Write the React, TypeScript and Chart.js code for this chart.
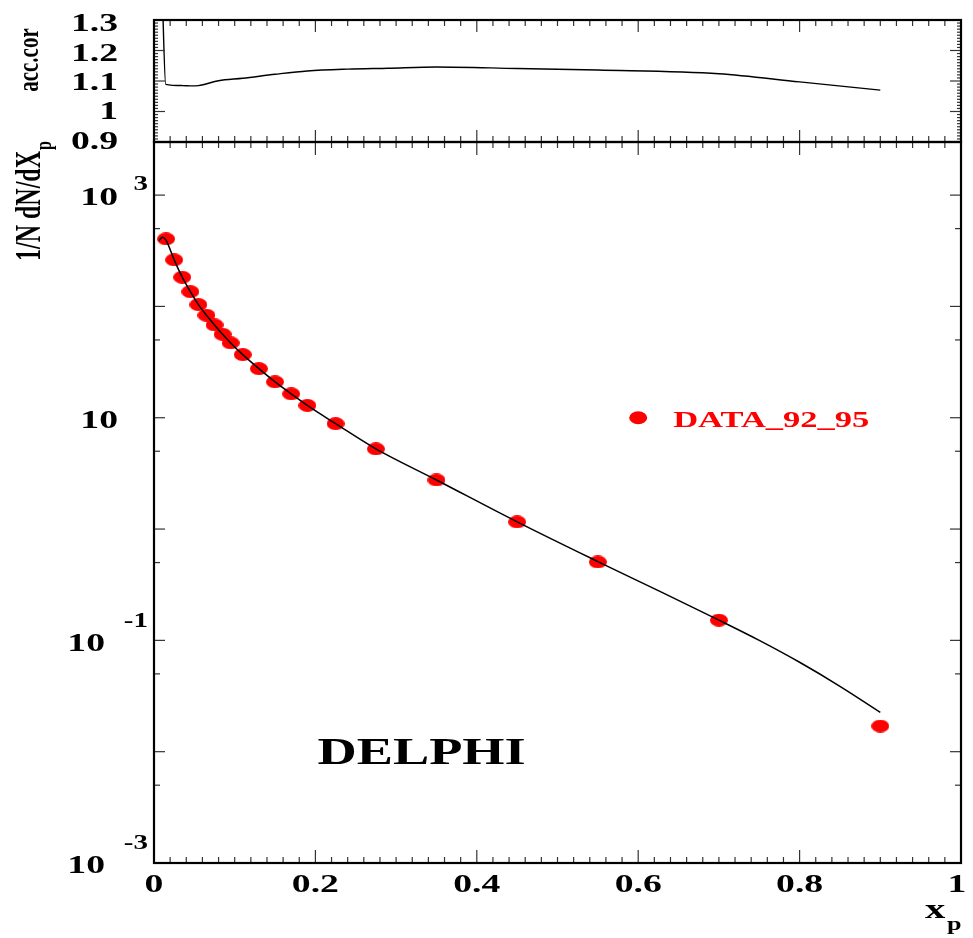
import React, { useEffect, useRef } from "react";
import { Chart, registerables } from "chart.js";
Chart.register(...registerables);

// ---- data ----
const dataX = [0.015, 0.025, 0.035, 0.045, 0.055, 0.065, 0.075, 0.085, 0.095, 0.11, 0.13, 0.15, 0.17, 0.19, 0.225, 0.275, 0.35, 0.45, 0.55, 0.7, 0.9];
const dataY = [404, 262, 183, 135.8, 103.8, 83.4, 68.2, 56.2, 47, 36.9, 27.6, 21, 16.4, 12.9, 8.85, 5.25, 2.76, 1.16, 0.506, 0.152, 0.017];

const fitX = [0.006, 0.0105, 0.015, 0.025, 0.035, 0.045, 0.055, 0.065, 0.075, 0.085, 0.095, 0.11, 0.13, 0.15, 0.17, 0.19, 0.225, 0.275, 0.35, 0.45, 0.55, 0.623, 0.7, 0.75, 0.8, 0.85, 0.9];
const fitY = [390, 419, 392, 262, 183, 135.8, 103.8, 83.4, 68.2, 56.2, 47, 36.9, 27.6, 21, 16.4, 12.9, 8.85, 5.25, 2.76, 1.16, 0.51, 0.284, 0.152, 0.1, 0.0636, 0.0387, 0.0226];

const accX = [0.01, 0.0145, 0.035, 0.045, 0.055, 0.08, 0.11, 0.15, 0.19, 0.24, 0.29, 0.35, 0.45, 0.55, 0.7, 0.8, 0.9];
const accY = [1.41, 1.089, 1.085, 1.084, 1.085, 1.101, 1.109, 1.122, 1.133, 1.139, 1.142, 1.146, 1.141, 1.136, 1.124, 1.097, 1.07];

const xTickVals = [0, 0.2, 0.4, 0.6, 0.8, 1];
const xTickLabels = ["0", "0.2", "0.4", "0.6", "0.8", "1"];
const accTickVals = [1.3, 1.2, 1.1, 1.0, 0.9];
const accTickLabels = ["1.3", "1.2", "1.1", "1", "0.9"];
const logTickExps = [3, 1, -1, -3];
const logTickSups = ["3", "", "-1", "-3"];

const seriesLabel = "DATA_92_95";
const experiment = "DELPHI";

// ---- drawing helpers ----
const FONT = '"Liberation Serif", "Times New Roman", Times, serif';
const SX = 1.45;

function text(ctx: CanvasRenderingContext2D, s: string, x: number, y: number, size: number, align: CanvasTextAlign, color = "#000", sx = SX) {
  ctx.save();
  ctx.font = `bold ${size}px ${FONT}`;
  ctx.fillStyle = color;
  ctx.textBaseline = "alphabetic";
  ctx.textAlign = align;
  ctx.translate(x, y);
  ctx.scale(sx, 1);
  ctx.fillText(s, 0, 0);
  ctx.restore();
}

function line(ctx: CanvasRenderingContext2D, x1: number, y1: number, x2: number, y2: number) {
  ctx.beginPath();
  ctx.moveTo(x1, y1);
  ctx.lineTo(x2, y2);
  ctx.stroke();
}

function xTicks(ctx: CanvasRenderingContext2D, xs: any, y: number, dir: number, minor: number, major: number) {
  for (let i = 0; i <= 50; i++) {
    const px = xs.getPixelForValue(i * 0.02);
    const len = i % 10 === 0 ? major : minor;
    line(ctx, px, y, px, y + dir * len);
  }
}

function frame(ctx: CanvasRenderingContext2D, a: any) {
  ctx.save();
  ctx.strokeStyle = "#000";
  ctx.lineWidth = 2.2;
  ctx.strokeRect(a.left, a.top, a.right - a.left, a.bottom - a.top);
  ctx.restore();
}

const bottomDeco = {
  id: "bottomDeco",
  afterDraw(chart: any) {
    const ctx: CanvasRenderingContext2D = chart.ctx;
    const a = chart.chartArea;
    const xs = chart.scales.x;
    const ys = chart.scales.y;
    ctx.save();
    ctx.strokeStyle = "#333";
    ctx.lineWidth = 1.2;
    xTicks(ctx, xs, a.bottom, -1, 6, 13);
    xTicks(ctx, xs, a.top, 1, 6, 13);
    for (let e = -3; e <= 3; e++) {
      const p = ys.getPixelForValue(Math.pow(10, e));
      line(ctx, a.left, p, a.left + 11, p);
      line(ctx, a.right, p, a.right - 11, p);
      const m = 5 * Math.pow(10, e);
      if (m <= 3000) {
        const q = ys.getPixelForValue(m);
        line(ctx, a.left, q, a.left + 6, q);
        line(ctx, a.right, q, a.right - 6, q);
      }
    }
    ctx.restore();
    frame(ctx, a);

    // x tick labels
    xTickVals.forEach((v, i) => {
      const px = xs.getPixelForValue(v);
      text(ctx, xTickLabels[i], v === 1 ? px - 4 : px, 892, 26, "center");
    });
    // y tick labels (10^n)
    logTickExps.forEach((e, i) => {
      const tick = ys.getPixelForValue(Math.pow(10, e));
      const center = tick + 1.5;
      const sup = logTickSups[i];
      if (!sup) {
        text(ctx, "10", 118, center + 8.8, 26, "right");
      } else {
        const neg = e < 0;
        text(ctx, "10", neg ? 105 : 118, center + 8.8, 26, "right");
        const sc = neg ? center - 22 : center - 13;
        text(ctx, sup, 148, sc + 6.8, 20, "right");
      }
    });
    // y title
    ctx.save();
    ctx.font = `bold 24px ${FONT}`;
    ctx.fillStyle = "#000";
    ctx.translate(40, 261);
    ctx.scale(SX, 1);
    ctx.rotate(-Math.PI / 2);
    ctx.textAlign = "left";
    ctx.textBaseline = "alphabetic";
    const t = "1/N dN/dX";
    ctx.fillText(t, 0, 0);
    const w = ctx.measureText(t).width;
    ctx.font = `bold 16px ${FONT}`;
    ctx.fillText("p", w + 1, 7.5);
    ctx.restore();
    // x title
    text(ctx, "x", 925, 918, 28, "left");
    text(ctx, "p", 947, 930, 18, "left");
    // DELPHI label
    text(ctx, experiment, xs.getPixelForValue(0.2) + 2, ys.getPixelForValue(0.01) + 12, 38, "left", "#000", 1.43);
    // legend
    const lx = xs.getPixelForValue(0.6);
    const ly = ys.getPixelForValue(10);
    ctx.save();
    ctx.fillStyle = "#ff0000";
    ctx.beginPath();
    ctx.ellipse(lx, ly, 9, 6.5, 0, 0, Math.PI * 2);
    ctx.fill();
    ctx.restore();
    text(ctx, seriesLabel, lx + 35, ly + 9, 23, "left", "#ff0000", 1.5);
  },
};

const topDeco = {
  id: "topDeco",
  afterDraw(chart: any) {
    const ctx: CanvasRenderingContext2D = chart.ctx;
    const a = chart.chartArea;
    const xs = chart.scales.x;
    const ys = chart.scales.y;
    ctx.save();
    ctx.strokeStyle = "#333";
    ctx.lineWidth = 1.2;
    xTicks(ctx, xs, a.top, 1, 6, 12);
    xTicks(ctx, xs, a.bottom, -1, 6, 12);
    for (let i = 0; i <= 40; i++) {
      const p = ys.getPixelForValue(0.9 + i * 0.01);
      const len = i % 10 === 0 ? 11 : 4;
      line(ctx, a.left, p, a.left + len, p);
      line(ctx, a.right, p, a.right - len, p);
    }
    ctx.restore();
    frame(ctx, a);
    accTickVals.forEach((v, i) => {
      const tick = ys.getPixelForValue(v);
      const frac = (tick - a.top) / (a.bottom - a.top);
      const center = tick + 2.5 - 4.5 * frac;
      text(ctx, accTickLabels[i], 118, center + 8.8, 26, "right");
    });
    ctx.save();
    ctx.font = `bold 21px ${FONT}`;
    ctx.fillStyle = "#000";
    ctx.translate(38, 60);
    ctx.scale(SX, 1);
    ctx.rotate(-Math.PI / 2);
    ctx.textAlign = "center";
    ctx.textBaseline = "alphabetic";
    ctx.fillText("acc.cor", 0, 0);
    ctx.restore();
  },
};

export default function App() {
  const topRef = useRef<HTMLCanvasElement>(null);
  const botRef = useRef<HTMLCanvasElement>(null);

  useEffect(() => {
    const dot = document.createElement("canvas");
    dot.width = 18;
    dot.height = 13;
    const dctx = dot.getContext("2d")!;
    dctx.fillStyle = "#ff0000";
    dctx.beginPath();
    dctx.ellipse(9, 6.5, 9, 6.5, 0, 0, Math.PI * 2);
    dctx.fill();

    const bottom = new Chart(botRef.current!, {
      type: "line",
      data: {
        datasets: [
          {
            label: "fit",
            data: fitX.map((x, i) => ({ x, y: fitY[i] })),
            borderColor: "#000",
            borderWidth: 1.5,
            pointRadius: 0,
            cubicInterpolationMode: "monotone",
            fill: false,
          },
          {
            label: seriesLabel,
            data: dataX.map((x, i) => ({ x, y: dataY[i] })),
            showLine: false,
            pointStyle: dot as any,
            pointRadius: 9,
            borderWidth: 0,
            backgroundColor: "#ff0000",
            borderColor: "#ff0000",
          },
        ],
      },
      options: {
        responsive: false,
        animation: false,
        events: [],
        layout: { padding: { left: 154, right: 12, top: 142, bottom: 75 } },
        scales: {
          x: { type: "linear", min: 0, max: 1, display: false },
          y: { type: "logarithmic", min: 0.001, max: 3000, display: false },
        },
        plugins: { legend: { display: false }, tooltip: { enabled: false } },
      } as any,
      plugins: [bottomDeco],
    });

    const top = new Chart(topRef.current!, {
      type: "line",
      data: {
        datasets: [
          {
            label: "acc.cor",
            data: accX.map((x, i) => ({ x, y: accY[i] })),
            borderColor: "#000",
            borderWidth: 1.4,
            pointRadius: 0,
            cubicInterpolationMode: "monotone",
            fill: false,
          },
        ],
      },
      options: {
        responsive: false,
        animation: false,
        events: [],
        layout: { padding: { left: 154, right: 12, top: 20, bottom: 18 } },
        scales: {
          x: { type: "linear", min: 0, max: 1, display: false },
          y: { type: "linear", min: 0.9, max: 1.3, display: false },
        },
        plugins: { legend: { display: false }, tooltip: { enabled: false } },
      } as any,
      plugins: [topDeco],
    });

    return () => {
      bottom.destroy();
      top.destroy();
    };
  }, []);

  return (
    <div style={{ position: "absolute", left: 0, top: 0, width: 973, height: 938, background: "#fff" }}>
      <canvas ref={botRef} width={973} height={938} style={{ position: "absolute", left: 0, top: 0, width: 973, height: 938 }} />
      <canvas ref={topRef} width={973} height={160} style={{ position: "absolute", left: 0, top: 0, width: 973, height: 160 }} />
    </div>
  );
}
